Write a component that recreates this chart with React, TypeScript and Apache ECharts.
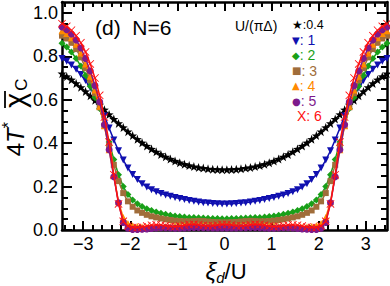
import React, { useEffect, useRef } from "react";
import * as echarts from "echarts";

// x grid (xi_d / U)
const xs = [
  -3.45, -3.35, -3.25, -3.15, -3.05, -2.95, -2.85, -2.75, -2.65, -2.55, -2.45, -2.35, -2.25, -2.15, -2.05, -1.95, -1.85, -1.75,
  -1.65, -1.55, -1.45, -1.35, -1.25, -1.15, -1.05, -0.95, -0.85, -0.75, -0.65, -0.55, -0.45, -0.35, -0.25, -0.15, -0.05,
  0.05, 0.15, 0.25, 0.35, 0.45, 0.55, 0.65, 0.75, 0.85, 0.95, 1.05, 1.15, 1.25, 1.35, 1.45, 1.55, 1.65, 1.75,
  1.85, 1.95, 2.05, 2.15, 2.25, 2.35, 2.45, 2.55, 2.65, 2.75, 2.85, 2.95, 3.05, 3.15, 3.25, 3.35, 3.45,
];

// U/(pi Delta) = 0.4
const u04 = [
  0.720, 0.707, 0.692, 0.675, 0.657, 0.638, 0.618, 0.597, 0.576, 0.554, 0.532, 0.511, 0.491, 0.472, 0.453, 0.435, 0.418, 0.402,
  0.387, 0.373, 0.360, 0.348, 0.337, 0.327, 0.318, 0.310, 0.303, 0.297, 0.292, 0.288, 0.285, 0.282, 0.280, 0.279, 0.278,
  0.278, 0.279, 0.280, 0.282, 0.285, 0.288, 0.292, 0.297, 0.303, 0.310, 0.318, 0.327, 0.337, 0.348, 0.360, 0.373, 0.387,
  0.402, 0.418, 0.435, 0.453, 0.472, 0.491, 0.511, 0.532, 0.554, 0.576, 0.597, 0.618, 0.638, 0.657, 0.675, 0.692, 0.707, 0.720,
];
// U/(pi Delta) = 1
const u1 = [
  0.790, 0.777, 0.760, 0.740, 0.716, 0.688, 0.655, 0.618, 0.572, 0.525, 0.470, 0.415, 0.365, 0.322, 0.285, 0.256, 0.232, 0.213,
  0.198, 0.185, 0.176, 0.168, 0.161, 0.155, 0.150, 0.145, 0.140, 0.136, 0.132, 0.129, 0.126, 0.124, 0.122, 0.121, 0.120,
  0.120, 0.121, 0.122, 0.124, 0.126, 0.129, 0.132, 0.136, 0.140, 0.145, 0.150, 0.155, 0.161, 0.168, 0.176, 0.185, 0.198,
  0.213, 0.232, 0.256, 0.285, 0.322, 0.365, 0.415, 0.470, 0.525, 0.572, 0.618, 0.655, 0.688, 0.716, 0.740, 0.760, 0.777, 0.790,
];
// U/(pi Delta) = 2
const u2 = [
  0.860, 0.843, 0.820, 0.790, 0.755, 0.712, 0.662, 0.610, 0.560, 0.485, 0.405, 0.325, 0.255, 0.200, 0.163, 0.138, 0.121, 0.108,
  0.098, 0.090, 0.083, 0.077, 0.072, 0.068, 0.065, 0.062, 0.060, 0.058, 0.057, 0.056, 0.055, 0.054, 0.053, 0.053, 0.052,
  0.052, 0.053, 0.053, 0.054, 0.055, 0.056, 0.057, 0.058, 0.060, 0.062, 0.065, 0.068, 0.072, 0.077, 0.083, 0.090, 0.098,
  0.108, 0.121, 0.138, 0.163, 0.200, 0.255, 0.325, 0.405, 0.485, 0.560, 0.610, 0.662, 0.712, 0.755, 0.790, 0.820, 0.843, 0.860,
];
// U/(pi Delta) = 3
const u3 = [
  0.895, 0.882, 0.862, 0.833, 0.795, 0.745, 0.690, 0.630, 0.565, 0.480, 0.390, 0.300, 0.225, 0.170, 0.132, 0.107, 0.090, 0.079,
  0.070, 0.063, 0.058, 0.053, 0.049, 0.046, 0.043, 0.041, 0.040, 0.040, 0.041, 0.042, 0.041, 0.039, 0.037, 0.036, 0.035,
  0.035, 0.036, 0.037, 0.039, 0.041, 0.042, 0.041, 0.040, 0.040, 0.041, 0.043, 0.046, 0.049, 0.053, 0.058, 0.063, 0.070,
  0.079, 0.090, 0.107, 0.132, 0.170, 0.225, 0.300, 0.390, 0.480, 0.565, 0.630, 0.690, 0.745, 0.795, 0.833, 0.862, 0.882, 0.895,
];
// U/(pi Delta) = 4
const u4 = [
  0.918, 0.905, 0.885, 0.855, 0.815, 0.765, 0.708, 0.645, 0.570, 0.480, 0.370, 0.250, 0.130, 0.058, 0.030, 0.020, 0.016, 0.014,
  0.013, 0.013, 0.014, 0.015, 0.016, 0.017, 0.018, 0.019, 0.020, 0.021, 0.021, 0.020, 0.019, 0.018, 0.017, 0.016, 0.016,
  0.016, 0.016, 0.017, 0.018, 0.019, 0.020, 0.021, 0.021, 0.020, 0.019, 0.018, 0.017, 0.016, 0.015, 0.014, 0.013, 0.013,
  0.014, 0.016, 0.020, 0.030, 0.058, 0.130, 0.250, 0.370, 0.480, 0.570, 0.645, 0.708, 0.765, 0.815, 0.855, 0.885, 0.905, 0.918,
];
// U/(pi Delta) = 5
const u5 = [
  0.935, 0.922, 0.903, 0.875, 0.838, 0.790, 0.732, 0.665, 0.590, 0.485, 0.370, 0.245, 0.125, 0.035, 0.008, 0.003, 0.003, 0.004,
  0.005, 0.007, 0.009, 0.010, 0.010, 0.009, 0.008, 0.008, 0.009, 0.011, 0.012, 0.012, 0.011, 0.010, 0.009, 0.009, 0.009,
  0.009, 0.009, 0.009, 0.010, 0.011, 0.012, 0.012, 0.011, 0.009, 0.008, 0.008, 0.009, 0.010, 0.010, 0.009, 0.007, 0.005,
  0.004, 0.003, 0.003, 0.008, 0.035, 0.125, 0.245, 0.370, 0.485, 0.590, 0.665, 0.732, 0.790, 0.838, 0.875, 0.903, 0.922, 0.935,
];
// U/(pi Delta) = 6
const u6 = [
  0.950, 0.938, 0.920, 0.895, 0.862, 0.820, 0.765, 0.700, 0.620, 0.520, 0.405, 0.255, 0.120, 0.040, 0.018, 0.012, 0.012, 0.014,
  0.018, 0.022, 0.024, 0.023, 0.020, 0.017, 0.016, 0.018, 0.022, 0.025, 0.026, 0.024, 0.021, 0.019, 0.020, 0.023, 0.025,
  0.025, 0.023, 0.020, 0.019, 0.021, 0.024, 0.026, 0.025, 0.022, 0.018, 0.016, 0.017, 0.020, 0.023, 0.024, 0.022, 0.018,
  0.014, 0.012, 0.012, 0.018, 0.040, 0.120, 0.255, 0.405, 0.520, 0.620, 0.700, 0.765, 0.820, 0.862, 0.895, 0.920, 0.938, 0.950,
];

// tick values
const xMajorTicks = [-3, -2, -1, 0, 1, 2, 3];
const xMinorTicks = [
  -3.4, -3.2, -3.0, -2.8, -2.6, -2.4, -2.2, -2.0, -1.8, -1.6, -1.4, -1.2, -1.0, -0.8, -0.6, -0.4, -0.2, 0,
  0.2, 0.4, 0.6, 0.8, 1.0, 1.2, 1.4, 1.6, 1.8, 2.0, 2.2, 2.4, 2.6, 2.8, 3.0, 3.2, 3.4,
];
const yMajorTicks = [0, 0.2, 0.4, 0.6, 0.8, 1.0];
const yMinorTicks = [
  0.05, 0.1, 0.15, 0.2, 0.25, 0.3, 0.35, 0.4, 0.45, 0.5, 0.55, 0.6, 0.65, 0.7, 0.75, 0.8, 0.85, 0.9, 0.95, 1.0,
];

// legend
const legendTitle = "U/(πΔ)";
const legendValues = [":0.4", ": 1", ": 2", ": 3", ": 4", ": 5", ": 6"];
const legendGlyphs = ["★", "▼", "◆", "■", "▲", "●", "X"];
const panelLabel = "(d)  N=6";

const FONT = "'Liberation Sans', Arial, Helvetica, sans-serif";
const colors = ["#000000", "#1010b0", "#19a019", "#a06d3a", "#ff8a00", "#7d1a8c", "#ff1010"];

const STAR =
  "path://M0,-10 L2.35,-3.24 L9.51,-3.09 L3.8,1.24 L5.88,8.09 L0,4 L-5.88,8.09 L-3.8,1.24 L-9.51,-3.09 L-2.35,-3.24 Z";
const XMARK =
  "path://M-10,-8.5 L-8.5,-10 L0,-1.5 L8.5,-10 L10,-8.5 L1.5,0 L10,8.5 L8.5,10 L0,1.5 L-8.5,10 L-10,8.5 L-1.5,0 Z";
const DIAMOND = "path://M0,-10 L10,0 L0,10 L-10,0 Z";

export default function App() {
  const ref = useRef<HTMLDivElement>(null);

  useEffect(() => {
    document.body.style.margin = "0";
    if (!ref.current) return;
    const chart = echarts.init(ref.current, undefined, { renderer: "svg" });

    const gridRect = { left: 62, right: 3, top: 2, bottom: 56 };
    const xMin = -3.45;
    const xMax = 3.45;
    const yMin = 0;
    const yMax = 1.05;

    const mkX = (gridIndex: number, position: string, ticks: number[], len: number, showLine: boolean, showLabel: boolean) => ({
      type: "value",
      gridIndex,
      position,
      min: xMin,
      max: xMax,
      axisLine: { show: showLine, onZero: false, lineStyle: { color: "#000", width: 2.5 } },
      axisTick: { show: true, inside: true, length: len, customValues: ticks, lineStyle: { color: "#000", width: 2 } },
      axisLabel: {
        show: showLabel,
        customValues: ticks,
        color: "#000",
        fontSize: 18,
        fontFamily: FONT,
        margin: 5,
        formatter: (v: number) => String(v).replace("-", "\u2212"),
      },
      splitLine: { show: false },
    });
    const mkY = (gridIndex: number, position: string, ticks: number[], len: number, showLine: boolean, showLabel: boolean) => ({
      type: "value",
      gridIndex,
      position,
      min: yMin,
      max: yMax,
      axisLine: { show: showLine, onZero: false, lineStyle: { color: "#000", width: 2.5 } },
      axisTick: { show: true, inside: true, length: len, customValues: ticks, lineStyle: { color: "#000", width: 2 } },
      axisLabel: {
        show: showLabel,
        customValues: ticks,
        color: "#000",
        fontSize: 18,
        fontFamily: FONT,
        margin: 4,
        formatter: (v: number) => v.toFixed(1),
      },
      splitLine: { show: false },
    });

    const sets = [u04, u1, u2, u3, u4, u5, u6];
    const symbols = [STAR, "triangle", DIAMOND, "rect", "triangle", "circle", XMARK];
    const sizes = [9, 7, 7, 6, 7, 7, 8];
    const rotates = [0, 180, 0, 0, 0, 0, 0];

    const series = sets.map((ys, k) => ({
      type: "line",
      name: legendValues[k],
      xAxisIndex: 0,
      yAxisIndex: 0,
      data: xs.map((x, i) => [x, ys[i]]),
      symbol: symbols[k],
      symbolSize: sizes[k],
      symbolRotate: rotates[k],
      showAllSymbol: true,
      lineStyle: { color: colors[k], width: 1.5 },
      itemStyle: { color: colors[k] },
      z: 2 + k,
      clip: true,
    }));

    const rows = legendValues.map((v, k) => ({
      type: "text",
      left: k === 6 ? 297 : 292,
      top: 18 + k * 15.2,
      style: {
        text: `{g|${legendGlyphs[k]}}{t|${v}}`,
        rich: {
          g: {
            fontSize: k === 6 ? 14 : k === 0 ? 12 : 10,
            fontFamily: k === 6 ? FONT : "'DejaVu Sans', sans-serif",
            fill: colors[k],
            lineHeight: 13,
            verticalAlign: "middle",
          },
          t: {
            fontSize: k === 0 ? 12.5 : 14,
            fontFamily: FONT,
            fill: colors[k],
            lineHeight: 13,
            verticalAlign: "middle",
          },
        },
      },
    }));

    chart.setOption({
      animation: false,
      backgroundColor: "#fff",
      grid: [
        { ...gridRect, containLabel: false },
        { ...gridRect, containLabel: false },
      ],
      xAxis: [
        mkX(0, "bottom", xMajorTicks, 9, true, true),
        mkX(0, "top", xMajorTicks, 9, true, false),
        mkX(1, "bottom", xMinorTicks, 5, false, false),
        mkX(1, "top", xMinorTicks, 5, false, false),
      ],
      yAxis: [
        mkY(0, "left", yMajorTicks, 10, true, true),
        mkY(0, "right", yMajorTicks, 10, true, false),
        mkY(1, "left", yMinorTicks, 6, false, false),
        mkY(1, "right", yMinorTicks, 6, false, false),
      ],
      series,
      graphic: [
        {
          type: "text",
          left: 95,
          top: 17,
          style: { text: panelLabel, fontSize: 21, fontFamily: FONT, fill: "#000" },
        },
        {
          type: "text",
          left: 235,
          top: 19,
          style: { text: legendTitle, fontSize: 14, fontFamily: FONT, fill: "#000" },
        },
        ...rows,
        {
          type: "group",
          x: 15,
          y: 120,
          rotation: Math.PI / 2,
          children: [
            {
              type: "text",
              x: -2,
              y: 0,
              style: {
                text: "{n|4}{t|T}{s|*}",
                align: "right",
                verticalAlign: "middle",
                rich: {
                  n: { fontSize: 24, fontFamily: FONT, fill: "#000", lineHeight: 30, verticalAlign: "middle" },
                  t: { fontSize: 24, fontFamily: FONT, fontStyle: "italic", fill: "#000", lineHeight: 30, verticalAlign: "middle" },
                  s: { fontSize: 16, fontFamily: FONT, fill: "#000", lineHeight: 30, verticalAlign: "top" },
                },
              },
            },
            {
              type: "text",
              x: 12,
              y: 0,
              style: {
                text: "{c|χ}{b|C}",
                align: "left",
                verticalAlign: "middle",
                rich: {
                  c: { fontSize: 29, fontFamily: FONT, fill: "#000", lineHeight: 30, verticalAlign: "middle" },
                  b: { fontSize: 17, fontFamily: FONT, fill: "#000", lineHeight: 30, verticalAlign: "bottom", padding: [0, 0, 0, 2] },
                },
              },
            },
            {
              type: "line",
              shape: { x1: 12, y1: -10, x2: 29, y2: -10 },
              style: { stroke: "#000", lineWidth: 1.8 },
            },
          ],
        },
        {
          type: "text",
          x: 226,
          y: 271,
          style: {
            text: "{a|ξ}{d|d}{u|/U}",
            align: "center",
            verticalAlign: "middle",
            rich: {
              a: { fontSize: 24, fontFamily: FONT, fontStyle: "italic", fill: "#000", lineHeight: 28, verticalAlign: "middle" },
              d: { fontSize: 15, fontFamily: FONT, fontStyle: "italic", fill: "#000", lineHeight: 28, verticalAlign: "bottom" },
              u: { fontSize: 22, fontFamily: FONT, fill: "#000", lineHeight: 28, verticalAlign: "middle" },
            },
          },
        },
      ],
    });

    return () => chart.dispose();
  }, []);

  return <div ref={ref} style={{ width: 390, height: 286 }} />;
}
